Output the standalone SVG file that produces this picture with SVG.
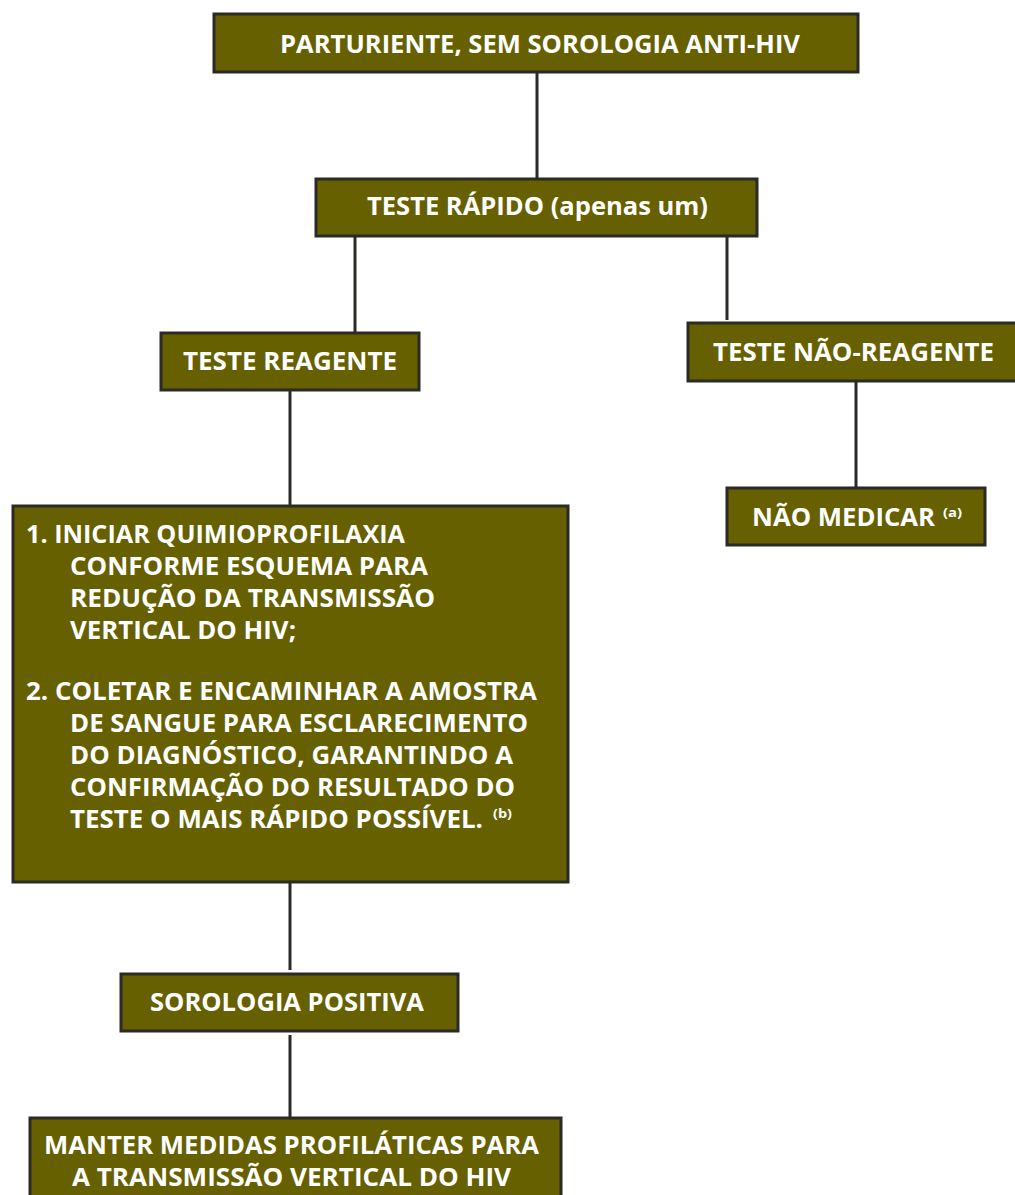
<svg xmlns="http://www.w3.org/2000/svg" width="1015" height="1195" viewBox="0 0 1015 1195">
<style>
.box{fill:#666000;stroke:#2b2a26;stroke-width:3}
.t{font-family:"Open Sans","Liberation Sans",sans-serif;font-weight:bold;font-size:25px;fill:#ffffff}
.sup{font-family:"Open Sans","Liberation Sans",sans-serif;font-weight:bold;font-size:13px;fill:#ffffff}
.c{stroke:#2b2a26;stroke-width:3;fill:none}
</style>
<rect width="1015" height="1195" fill="#ffffff"/>
<g id="connectors">
<line class="c" x1="537" y1="72" x2="537" y2="178"/>
<line class="c" x1="355" y1="236" x2="355" y2="333"/>
<line class="c" x1="727" y1="236" x2="727" y2="320"/>
<line class="c" x1="290" y1="390" x2="290" y2="505"/>
<line class="c" x1="856" y1="382" x2="856" y2="487"/>
<line class="c" x1="290" y1="883" x2="290" y2="970"/>
<line class="c" x1="290" y1="1035" x2="290" y2="1117"/>
</g>
<g id="n1">
<rect class="box" x="214" y="14" width="644" height="58"/>
<text class="t" x="280" y="53" textLength="520" lengthAdjust="spacingAndGlyphs">PARTURIENTE, SEM SOROLOGIA ANTI-HIV</text>
</g>
<g id="n2">
<rect class="box" x="316" y="179" width="441" height="57"/>
<text class="t" x="367" y="215" textLength="341" lengthAdjust="spacingAndGlyphs">TESTE RÁPIDO (apenas um)</text>
</g>
<g id="n3">
<rect class="box" x="161" y="333" width="258" height="57"/>
<text class="t" x="183" y="370" textLength="214" lengthAdjust="spacingAndGlyphs">TESTE REAGENTE</text>
</g>
<g id="n4">
<rect class="box" x="688" y="323" width="330" height="58"/>
<text class="t" x="713" y="361" textLength="281" lengthAdjust="spacingAndGlyphs">TESTE NÃO-REAGENTE</text>
</g>
<g id="n5">
<rect class="box" x="727" y="488" width="258" height="57"/>
<text class="t" x="752" y="526" textLength="183" lengthAdjust="spacingAndGlyphs">NÃO MEDICAR</text>
<text class="sup" x="943" y="517" textLength="19" lengthAdjust="spacingAndGlyphs">(a)</text>
</g>
<g id="n6">
<rect class="box" x="13" y="506" width="555" height="376"/>
<text class="t" x="26" y="543" textLength="379" lengthAdjust="spacingAndGlyphs">1. INICIAR QUIMIOPROFILAXIA</text>
<text class="t" x="70" y="575" textLength="358" lengthAdjust="spacingAndGlyphs">CONFORME ESQUEMA PARA</text>
<text class="t" x="70" y="607" textLength="365" lengthAdjust="spacingAndGlyphs">REDUÇÃO DA TRANSMISSÃO</text>
<text class="t" x="70" y="639" textLength="226" lengthAdjust="spacingAndGlyphs">VERTICAL DO HIV;</text>
<text class="t" x="26" y="700" textLength="511" lengthAdjust="spacingAndGlyphs">2. COLETAR E ENCAMINHAR A AMOSTRA</text>
<text class="t" x="70" y="732" textLength="458" lengthAdjust="spacingAndGlyphs">DE SANGUE PARA ESCLARECIMENTO</text>
<text class="t" x="70" y="764" textLength="443" lengthAdjust="spacingAndGlyphs">DO DIAGNÓSTICO, GARANTINDO A</text>
<text class="t" x="70" y="796" textLength="445" lengthAdjust="spacingAndGlyphs">CONFIRMAÇÃO DO RESULTADO DO</text>
<text class="t" x="70" y="828" textLength="413" lengthAdjust="spacingAndGlyphs">TESTE O MAIS RÁPIDO POSSÍVEL.</text>
<text class="sup" x="493" y="818" textLength="19" lengthAdjust="spacingAndGlyphs">(b)</text>
</g>
<g id="n7">
<rect class="box" x="121" y="974" width="337" height="57"/>
<text class="t" x="150" y="1011" textLength="274" lengthAdjust="spacingAndGlyphs">SOROLOGIA POSITIVA</text>
</g>
<g id="n8">
<rect class="box" x="30" y="1118" width="531" height="80"/>
<text class="t" x="44" y="1154" textLength="495" lengthAdjust="spacingAndGlyphs">MANTER MEDIDAS PROFILÁTICAS PARA</text>
<text class="t" x="72" y="1186" textLength="439" lengthAdjust="spacingAndGlyphs">A TRANSMISSÃO VERTICAL DO HIV</text>
</g>
</svg>
